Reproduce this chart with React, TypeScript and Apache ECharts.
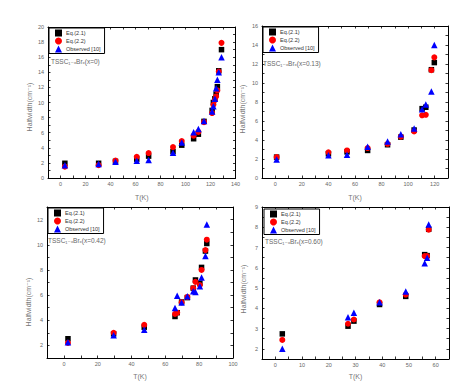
import React, { useEffect, useRef } from "react";
import * as echarts from "echarts";

const seriesNames = ["Eq.(2.1)", "Eq.(2.2)", "Observed [10]"];
const panelTitles = ["TSSC₁₋ₓBrₓ(x=0)", "TSSC₁₋ₓBrₓ(x=0.13)", "TSSC₁₋ₓBrₓ(x=0.42)", "TSSC₁₋ₓBrₓ(x=0.60)"];
const xTitle = "T(K)";
const yTitle = "Halfwidth(cm⁻¹)";

// Panel 1 (x=0)
const p1Temp = [3.5, 30.5, 44, 61, 70.5, 90, 97, 106.5, 110.3, 114.8, 121.3, 122.3, 123.5, 124.5, 125.5, 126.6, 128.8];
const p1Eq21 = [1.95, 1.95, 2.2, 2.5, 2.9, 3.5, 4.35, 5.2, 5.8, 7.5, 8.95, 10.0, 10.5, 11.1, 12.1, 14.2, 17.0];
const p1Eq22 = [1.5, 1.7, 2.3, 2.8, 3.3, 4.1, 4.9, 5.6, 6.1, 7.4, 8.6, 9.7, 10.3, 10.8, 11.6, 14.1, 17.9];
const p1Obs = [1.7, 1.85, 2.15, 2.3, 2.4, 3.35, 4.7, 6.05, 6.5, 7.55, 8.8, 9.5, 10.5, 11.9, 13.0, 14.0, 16.0];

// Panel 2 (x=0.13)
const p2Temp = [1, 40, 54, 69.5, 84.5, 94.5, 104.5, 110.5, 113.3, 117.5, 119.7];
const p2Eq21 = [2.2, 2.55, 2.75, 2.9, 3.5, 4.3, 5.05, 7.3, 7.45, 11.4, 12.15];
const p2Eq22 = [2.2, 2.7, 2.9, 3.15, 3.6, 4.35, 4.9, 6.6, 6.65, 11.35, 12.7];
const p2Obs = [1.95, 2.4, 2.45, 3.3, 3.85, 4.6, 5.2, 7.25, 7.75, 9.1, 14.0];

// Panel 3 (x=0.42)
const p3Temp = [2.4, 29.4, 47.5, 65.7, 67, 69.6, 73, 76.5, 77.8, 80.4, 81.4, 83.7, 84.5];
const p3Eq21 = [2.53, 2.92, 3.45, 4.3, 4.6, 5.45, 5.8, 6.55, 7.2, 6.95, 8.2, 9.5, 10.1];
const p3Eq22 = [2.2, 3.0, 3.63, 4.5, 4.6, 5.42, 5.85, 6.55, 7.05, 6.8, 8.0, 9.58, 10.4];
const p3Obs = [2.26, 2.8, 3.24, 4.97, 5.95, 5.42, 5.9, 6.3, 6.25, 6.7, 7.4, 9.1, 11.6];

// Panel 4 (x=0.60)
const p4Temp = [2.6, 27.2, 29.4, 39, 48.8, 55.9, 56.8, 57.4];
const p4Eq21 = [2.74, 3.12, 3.37, 4.19, 4.59, 6.65, 6.6, 7.9];
const p4Eq22 = [2.44, 3.24, 3.45, 4.3, 4.68, 6.58, 6.58, 7.88];
const p4Obs = [2.0, 3.56, 3.78, 4.3, 4.83, 6.23, 6.5, 8.14];

const panelData = [
  { temp: p1Temp, vals: [p1Eq21, p1Eq22, p1Obs] },
  { temp: p2Temp, vals: [p2Eq21, p2Eq22, p2Obs] },
  { temp: p3Temp, vals: [p3Eq21, p3Eq22, p3Obs] },
  { temp: p4Temp, vals: [p4Eq21, p4Eq22, p4Obs] },
];

// axis ranges: [min, max, tick step, label step]
const xRanges = [
  [-10, 140, 10, 20],
  [-10, 130, 10, 20],
  [-10, 100, 10, 20],
  [-5, 65, 5, 10],
];
const yRanges = [
  [0, 20, 1, 2],
  [0, 16, 1, 2],
  [1, 13, 1, 2],
  [1.5, 9, 0.5, 1],
];

const layout = [
  { left: 48, top: 27, width: 187.5, height: 151, xName: 197, yNameX: 29, yNameY: 107, titleX: 51, titleY: 61, legL: 49, legT: 28 },
  { left: 262, top: 26, width: 186, height: 152, xName: 197, yNameX: 242, yNameY: 109, titleX: 263, titleY: 63, legL: 263, legT: 27 },
  { left: 47, top: 207, width: 186, height: 151, xName: 376, yNameX: 28.5, yNameY: 302, titleX: 48, titleY: 240, legL: 48, legT: 208 },
  { left: 262, top: 207, width: 187, height: 152, xName: 376, yNameX: 243.5, yNameY: 289, titleX: 265, titleY: 241, legL: 264, legT: 209 },
];

const colors = ["#000000", "#ff0000", "#0000ff"];
const symbols = ["rect", "circle", "triangle"];
const symbolSizes = [5.5, 6, 6.5];
const FONT = "'Liberation Sans', Arial, 'DejaVu Sans', sans-serif";

function isMult(v: number, step: number) {
  const r = v / step;
  return Math.abs(r - Math.round(r)) < 1e-6;
}

function buildOption() {
  const grid: any[] = [];
  const xAxis: any[] = [];
  const yAxis: any[] = [];
  const series: any[] = [];
  const legend: any[] = [];
  const graphic: any[] = [];

  layout.forEach((L, i) => {
    grid.push({ left: L.left, top: L.top, width: L.width, height: L.height, show: false });
    const [xmin, xmax, xstep, xlab] = xRanges[i];
    const [ymin, ymax, ystep, ylab] = yRanges[i];
    const axisLine = { show: true, onZero: false, lineStyle: { color: "#000", width: 1 } };
    const tick = { show: true, inside: true, length: 2.5, lineStyle: { color: "#000", width: 0.8 } };
    // bottom x
    xAxis.push({
      type: "value", gridIndex: i, position: "bottom", min: xmin, max: xmax, interval: xstep,
      axisLine, axisTick: tick, splitLine: { show: false },
      axisLabel: {
        show: true, margin: 3, fontSize: 5.5, color: "#666", fontFamily: FONT,
        formatter: (v: number) => (v >= 0 && isMult(v, xlab) ? String(v) : ""),
        showMinLabel: true, showMaxLabel: true,
      },
    });
    // top x
    xAxis.push({
      type: "value", gridIndex: i, position: "top", min: xmin, max: xmax, interval: xstep,
      axisLine, axisTick: tick, splitLine: { show: false }, axisLabel: { show: false },
    });
    // left y
    yAxis.push({
      type: "value", gridIndex: i, position: "left", min: ymin, max: ymax, interval: ystep,
      axisLine, axisTick: tick, splitLine: { show: false },
      axisLabel: {
        show: true, margin: 4, fontSize: 5.5, color: "#666", fontFamily: FONT,
        formatter: (v: number) => (isMult(v, ylab) ? String(v) : ""),
        showMinLabel: true, showMaxLabel: true,
      },
    });
    // right y
    yAxis.push({
      type: "value", gridIndex: i, position: "right", min: ymin, max: ymax, interval: ystep,
      axisLine, axisTick: tick, splitLine: { show: false }, axisLabel: { show: false },
    });

    const d = panelData[i];
    seriesNames.forEach((name, k) => {
      series.push({
        type: "scatter", name, xAxisIndex: i * 2, yAxisIndex: i * 2,
        symbol: symbols[k], symbolSize: symbolSizes[k],
        itemStyle: { color: colors[k], opacity: 1 },
        data: d.temp.map((t, j) => [t, d.vals[k][j]]),
        z: 2 + k,
      });
    });

    legend.push({
      data: seriesNames, orient: "vertical", left: L.legL, top: L.legT,
      itemWidth: 7, itemHeight: 7, itemGap: 1, padding: [1.5, 4, 1, 6],
      borderColor: "#000", borderWidth: 1, backgroundColor: "#fff",
      selectedMode: false,
      textStyle: { fontSize: 5.5, color: "#333", fontFamily: FONT, padding: [0, 0, 0, -1] },
    });

    graphic.push({
      type: "text", x: L.left + L.width / 2, y: L.xName,
      style: { text: xTitle, fontSize: 7, fill: "#777", fontFamily: FONT, align: "center", verticalAlign: "middle" },
    });
    graphic.push({
      type: "text", x: L.yNameX, y: L.yNameY, rotation: Math.PI / 2,
      style: { text: yTitle, fontSize: 7, fill: "#777", fontFamily: FONT, align: "center", verticalAlign: "middle" },
    });
    graphic.push({
      type: "text", x: L.titleX, y: L.titleY, z: 10,
      style: { text: panelTitles[i], fontSize: 6.5, fill: "#666", fontFamily: FONT, align: "left", verticalAlign: "middle" },
    });
  });

  return {
    animation: false,
    backgroundColor: "#ffffff",
    grid, xAxis, yAxis, series, legend, graphic,
  };
}

export default function App() {
  const ref = useRef<HTMLDivElement>(null);
  useEffect(() => {
    if (!ref.current) return;
    const chart = echarts.init(ref.current, undefined, { renderer: "svg" });
    chart.setOption(buildOption() as any);
    return () => chart.dispose();
  }, []);
  return (
    <div
      ref={ref}
      style={{ position: "fixed", left: 0, top: 0, width: 475, height: 384, background: "#fff" }}
    />
  );
}
